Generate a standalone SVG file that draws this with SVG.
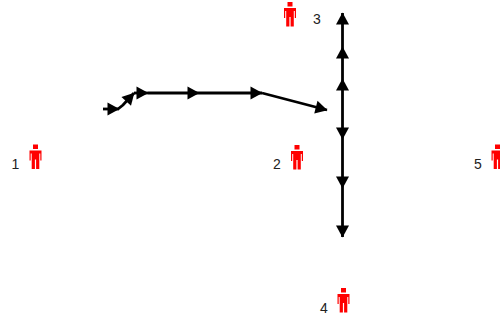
<svg xmlns="http://www.w3.org/2000/svg" width="500" height="320" viewBox="0 0 500 320">
<style>
.lbl{font-family:"Liberation Sans",Arial,sans-serif;font-size:14px;fill:#222;text-anchor:middle}
.fig{fill:#f00;stroke:none}
.c{fill:none;stroke:#000;stroke-width:2.8;marker-end:url(#a)}
</style>
<defs>
<marker id="a" markerUnits="userSpaceOnUse" markerWidth="14" markerHeight="16" refX="12" refY="8" orient="auto" viewBox="0 0 14 16">
<path d="M0.500 1.500 L12.500 8 L0.500 14.500 Z" fill="#000"/>
</marker>
<symbol id="person" overflow="visible">
<path class="fig" d="M-2.5 0H2.5V4.5H-2.5Z M-6 6H6V16H4.8V9H3.8V24.500H0.600V15H-0.600V24.500H-3.800V9H-4.800V16H-6Z"/>
</symbol>
</defs>
<rect width="500" height="320" fill="#fff"/>
<g id="connectors">
<path class="c" d="M103 109H119"/>
<path class="c" d="M118 109L123 105L134 93"/>
<path class="c" d="M134 93H148"/>
<path class="c" d="M148 93H199"/>
<path class="c" d="M199 93H262"/>
<path class="c" d="M262 93L327 110"/>
<path class="c" d="M342.5 90V79"/>
<path class="c" d="M342.5 79V47"/>
<path class="c" d="M342.5 47V13"/>
<path class="c" d="M342.5 90V139"/>
<path class="c" d="M342.5 139V188"/>
<path class="c" d="M342.5 188V237"/>
</g>
<g id="node1"><use href="#person" x="35.5" y="144.5"/><text class="lbl" x="15.500" y="168.500">1</text></g>
<g id="node2"><use href="#person" x="297" y="145"/><text class="lbl" x="277" y="168.500">2</text></g>
<g id="node3"><use href="#person" x="290" y="2"/><text class="lbl" x="317" y="24">3</text></g>
<g id="node4"><use href="#person" x="343.500" y="288"/><text class="lbl" x="324" y="312.500">4</text></g>
<g id="node5"><use href="#person" x="497.500" y="144.500"/><text class="lbl" x="478" y="168.500">5</text></g>
</svg>
